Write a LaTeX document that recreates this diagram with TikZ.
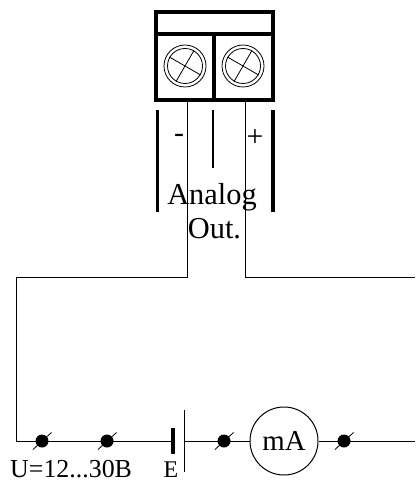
\documentclass[tikz,border=0pt]{standalone}
\usepackage{fontspec}
\setmainfont{Liberation Serif}
\tikzset{
  heavy/.style={draw=black,line width=3.2bp},
  wire/.style={draw=black,line width=1bp},
  thin wire/.style={draw=black,line width=0.8bp},
  junction/.style={circle,fill=black,inner sep=0pt,minimum size=13bp},
  label/.style={inner sep=0pt,text=black},
  screw/.style={circle,draw=black,line width=0.8bp,inner sep=0pt},
  meter/.style={circle,draw=black,line width=1bp,inner sep=0pt,minimum size=68bp}
}
\newcommand{\fs}[1]{\fontsize{#1}{#1}\selectfont}
\begin{document}
\begin{tikzpicture}[x=1bp,y=-1bp]
\useasboundingbox (0,0) rectangle (415,481);
% terminal block
\draw[heavy] (156,12) rectangle (273,100);
\draw[heavy] (156,34) -- (273,34);
\draw[heavy] (214,34) -- (214,100);
% screws
\foreach \n/\cx in {a/185,b/243}{
  \node[screw,minimum size=42bp] (out\n) at (\cx,66) {};
  \node[screw,minimum size=35bp] (in\n) at (\cx,66) {};
  \draw[thin wire] (in\n.150) -- (in\n.-30);
  \draw[thin wire] (in\n.60) -- (in\n.240);
}
% scale bars
\coordinate (l1) at (157.5,110); \coordinate (l2) at (157.5,212);
\coordinate (m1) at (213,110);   \coordinate (m2) at (213,168);
\coordinate (r1) at (273,110);   \coordinate (r2) at (273,212);
\draw[heavy] (l1) -- (l2);
\draw[draw=black,line width=1.2bp] (m1) -- (m2);
\draw[heavy] (r1) -- (r2);
% labels
\node[label,font=\fs{30}] (minus) at (179,138) {-};
\node[label,font=\fs{30}] (plus) at (255,138) {+};
\node[label,font=\fs{30.5},anchor=base] (analog) at (212,204) {Analog};
\node[label,font=\fs{30.5},anchor=base] (outl) at (214.5,238) {Out.};
% wiring
\coordinate (tl) at (187.5,100);
\coordinate (tr) at (245,100);
\coordinate (frame) at (415,441);
\coordinate (plateA) at (173,441);
\coordinate (plateB) at (184.7,441);
\node[meter] (mA) at (284,441) {};
\node[label,font=\fs{29}] at (mA) {mA};
\draw[wire] (tl) -- (187.5,277) -- (16,277) -- (16,441) -- (plateA);
\draw[wire] (tr) -- (245,277) -- (415,277);
\draw[wire] (plateB) -- (mA);
\draw[wire] (mA) -- (frame);
% battery
\draw[draw=black,line width=3.2bp] (173,428) -- (173,453.5);
\draw[draw=black,line width=1bp] (184.7,410) -- (184.7,472);
% terminals
\foreach \n/\cx in {a/42,b/107,c/224,d/344}{
  \node[junction] (j\n) at (\cx,441) {};
  \draw[thin wire] (\cx-9,449.5) -- (\cx+9.5,432.5);
}
\node[label,font=\fs{26},anchor=base west] (ulabel) at (10,477.5) {U=12...30B};
\node[label,font=\fs{24},anchor=base] (elabel) at (171,477.5) {E};
\end{tikzpicture}
\end{document}
